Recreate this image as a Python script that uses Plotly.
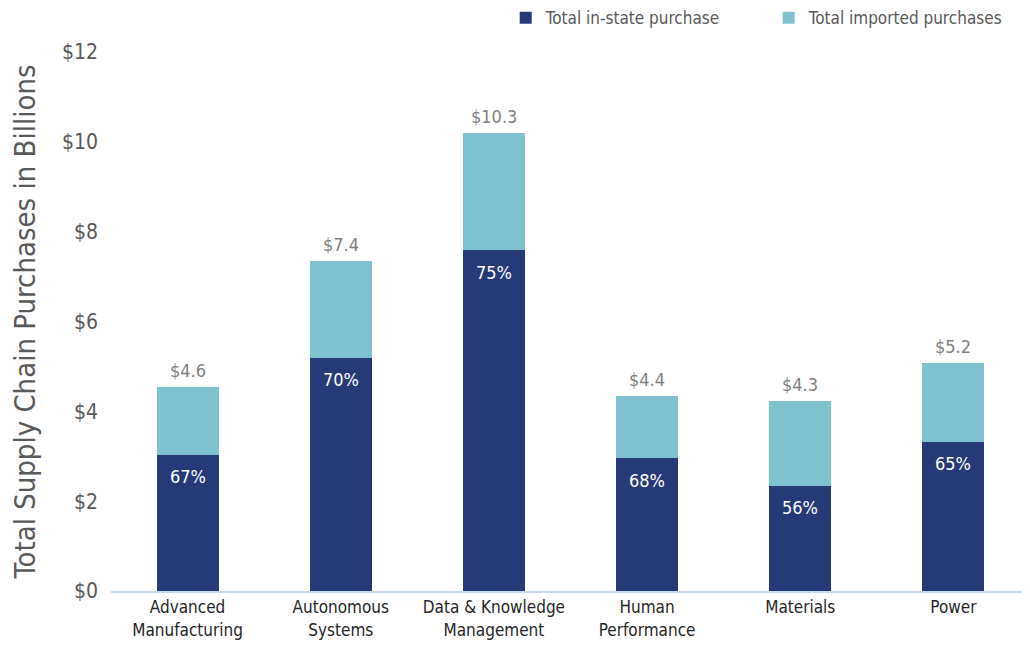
import plotly.graph_objects as go

categories = ["Advanced<br>Manufacturing", "Autonomous<br>Systems", "Data & Knowledge<br>Management",
              "Human<br>Performance", "Materials", "Power"]
in_state = [3.03, 5.19, 7.59, 2.96, 2.34, 3.32]
imported = [1.51, 2.16, 2.61, 1.38, 1.89, 1.76]
pct_labels = ["67%", "70%", "75%", "68%", "56%", "65%"]
total_labels = ["$4.6", "$7.4", "$10.3", "$4.4", "$4.3", "$5.2"]
y_ticks = [0, 2, 4, 6, 8, 10, 12]
y_tick_labels = ["$0", "$2", "$4", "$6", "$8", "$10", "$12"]

FONT = "DejaVu Sans Condensed, Liberation Sans Narrow, sans-serif"
NAVY = "#243B77"
TEAL = "#7FC2CF"

fig = go.Figure()
fig.add_trace(go.Bar(
    x=categories, y=in_state, name="Total in-state purchase",
    marker=dict(color=NAVY, line=dict(width=0)),
    hoverinfo="skip",
))
fig.add_trace(go.Bar(
    x=categories, y=imported, name="Total imported purchases",
    marker=dict(color=TEAL, line=dict(width=0)),
    hoverinfo="skip",
))

totals = [a + b for a, b in zip(in_state, imported)]
for c, t, lab in zip(categories, totals, total_labels):
    fig.add_annotation(x=c, y=t, text=lab, showarrow=False, yanchor="bottom", yshift=4,
                       font=dict(family=FONT, size=18, color="#7F7F7F"))
for c, v, lab in zip(categories, in_state, pct_labels):
    fig.add_annotation(x=c, y=v, text=lab, showarrow=False, yanchor="middle", yshift=-22,
                       font=dict(family=FONT, size=18, color="#FFFFFF"))

fig.update_layout(
    width=1022, height=642,
    barmode="stack", bargap=0.595,
    paper_bgcolor="white", plot_bgcolor="white",
    margin=dict(l=103, r=0, t=44, b=59, autoexpand=False),
    font=dict(family=FONT, color="#595959"),
    legend=dict(orientation="h", x=0.487, xanchor="left", xref="container",
                y=0.984, yanchor="middle", yref="container",
                font=dict(family=FONT, size=17, color="#595959"),
                entrywidth=218, entrywidthmode="pixels",
                traceorder="normal", bgcolor="rgba(0,0,0,0)"),
)
fig.update_xaxes(showgrid=False, showline=True, linecolor="#C9D9EE", linewidth=2,
                 ticks="", tickangle=0, automargin=False,
                 tickfont=dict(family=FONT, size=17, color="#262626"))
fig.update_yaxes(range=[0, 12], tickvals=y_ticks, ticktext=y_tick_labels, showgrid=False,
                 zeroline=False, showline=False, ticks="", ticklen=0, automargin=False,
                 ticklabelstandoff=12,
                 tickfont=dict(family=FONT, size=21, color="#595959"),
                 title=dict(text="Total Supply Chain Purchases in Billions", standoff=20,
                            font=dict(family=FONT, size=29, color="#595959")))

fig.write_html("out.html")
